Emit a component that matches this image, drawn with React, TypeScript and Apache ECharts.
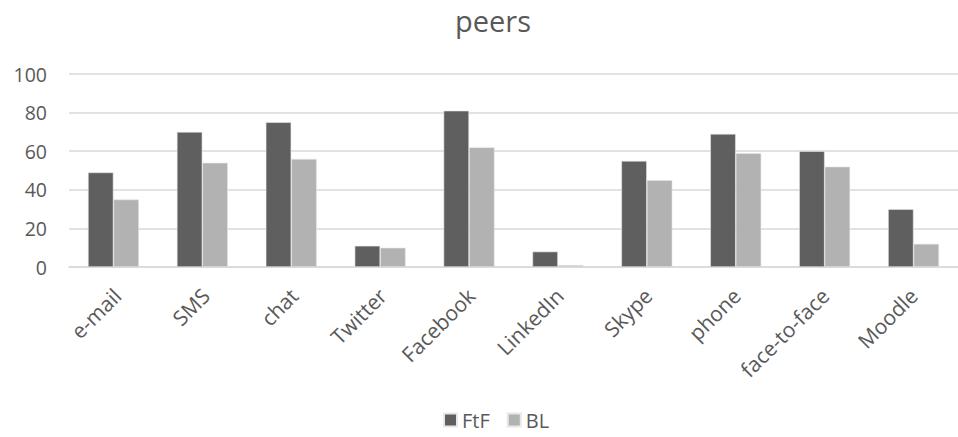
import React, { useEffect, useRef } from "react";
import * as echarts from "echarts";

const categories = ["e-mail", "SMS", "chat", "Twitter", "Facebook", "LinkedIn", "Skype", "phone", "face-to-face", "Moodle"];
const ftf = [49, 70, 75, 11, 81, 8, 55, 69, 60, 30];
const bl = [35, 54, 56, 10, 62, 1, 45, 59, 52, 12];
const seriesNames = ["FtF", "BL"];
const titleText = "peers";

const FONT = "'Open Sans', sans-serif";
const TEXT = "#595959";

export default function App() {
  const ref = useRef<HTMLDivElement>(null);
  useEffect(() => {
    if (!ref.current) return;
    const chart = echarts.init(ref.current, undefined, { renderer: "svg" });
    chart.setOption({
      animation: false,
      backgroundColor: "#ffffff",
      title: {
        text: titleText,
        left: 488,
        top: 1,
        textAlign: "center",
        textStyle: { fontFamily: FONT, fontSize: 29, fontWeight: "normal", color: TEXT },
      },
      legend: {
        data: seriesNames,
        bottom: 2,
        left: 438,
        itemWidth: 13,
        itemHeight: 13,
        itemGap: 17,
        icon: "rect",
        textStyle: { fontFamily: FONT, fontSize: 20, color: TEXT },
      },
      grid: [
        { left: 69, top: 74, width: 896, height: 193 },
        { left: 73, top: 74, width: 896, height: 193 },
      ],
      xAxis: [
        {
          type: "category",
          data: categories,
          gridIndex: 0,
          axisLine: { lineStyle: { color: "#d9d9d9", width: 1.5 } },
          axisTick: { show: false },
          axisLabel: { show: false },
        },
        {
          type: "category",
          data: categories,
          gridIndex: 1,
          axisLine: { show: false },
          axisTick: { show: false },
          axisLabel: {
            rotate: 45,
            interval: 0,
            margin: 25,
            fontFamily: FONT,
            fontSize: 21,
            color: TEXT,
          },
        },
      ],
      yAxis: [
        {
          type: "value",
          gridIndex: 0,
          min: 0,
          max: 100,
          interval: 20,
          axisLine: { show: false },
          axisTick: { show: false },
          splitLine: { lineStyle: { color: "#d9d9d9", width: 1.5 } },
          axisLabel: { fontFamily: FONT, fontSize: 19.5, color: TEXT, margin: 22 },
        },
        {
          type: "value",
          gridIndex: 1,
          min: 0,
          max: 100,
          interval: 20,
          show: false,
        },
      ],
      series: [
        {
          name: seriesNames[0],
          type: "bar",
          data: ftf,
          barWidth: 25.5,
          barGap: "0%",
          itemStyle: { color: "#5f5f5f", borderColor: "#e8e8e8", borderWidth: 0.6 },
        },
        {
          name: seriesNames[1],
          type: "bar",
          data: bl,
          barWidth: 25.5,
          barGap: "0%",
          itemStyle: { color: "#b2b2b2", borderColor: "#e8e8e8", borderWidth: 0.6 },
        },
      ],
    });
    return () => chart.dispose();
  }, []);
  return <div ref={ref} style={{ width: 958, height: 437, position: "absolute", left: 0, top: 0 }} />;
}
